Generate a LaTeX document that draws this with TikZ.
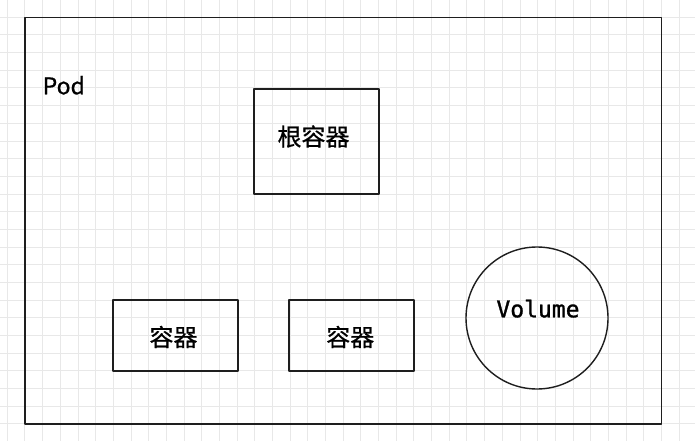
\documentclass[tikz,border=0pt]{standalone}
\usepackage{fontspec}
\newfontfamily\cjk{Noto Sans CJK SC}[FakeBold=0.7]
\newfontfamily\monof{DejaVu Sans Mono}[FakeBold=1.2]
\definecolor{ink}{HTML}{1E1E1E}
\definecolor{gridc}{HTML}{E8E8E8}
\tikzset{
  gridline/.style={draw=gridc, line width=1pt},
  sketch/.style={draw=ink, line width=1.4pt, line join=round},
  boxnode/.style={sketch, rectangle, inner sep=0pt, outer sep=0pt},
  cjklabel/.style={inner sep=0pt, text=black, font=\cjk\fontsize{24}{28}\selectfont},
}
\begin{document}
\begin{tikzpicture}[x=1pt,y=-1pt]
\useasboundingbox (0,0) rectangle (695,441);
\fill[white] (0,0) rectangle (695,441);
% grid
\foreach \i in {0,...,39} {
  \draw[gridline] ({7.3+17.68*\i},0) -- ({7.3+17.68*\i},441);
}
\foreach \j in {1,...,25} {
  \draw[gridline] (0,{-0.4+17.68*\j}) -- (695,{-0.4+17.68*\j});
}
% Pod frame
\node[boxnode, minimum width=636.5pt, minimum height=406.7pt, anchor=north west] (pod) at (25,17.3) {};
\node[inner sep=0pt, anchor=base west, font=\cjk\fontsize{23}{27}\selectfont] (podlabel) at (42.5,94.3) {Pod};
% root container
\node[boxnode, minimum width=125pt, minimum height=105pt, anchor=north west] (root) at (254,89) {};
\node[cjklabel] (rootlabel) at (313.5,136.5) {根容器};
% containers
\node[boxnode, minimum width=125pt, minimum height=71pt, anchor=north west] (c1) at (113,300) {};
\node[cjklabel] (c1label) at (173.5,337) {容器};
\node[boxnode, minimum width=125pt, minimum height=71pt, anchor=north west] (c2) at (289,300) {};
\node[cjklabel] (c2label) at (350.3,337) {容器};
% volume
\node[sketch, circle, minimum size=142pt, inner sep=0pt] (vol) at (537,318) {};
\node[inner sep=0pt, anchor=base, font=\monof\fontsize{23}{27}\selectfont] (vollabel) at (538,317.3) {Volume};
\end{tikzpicture}
\end{document}
